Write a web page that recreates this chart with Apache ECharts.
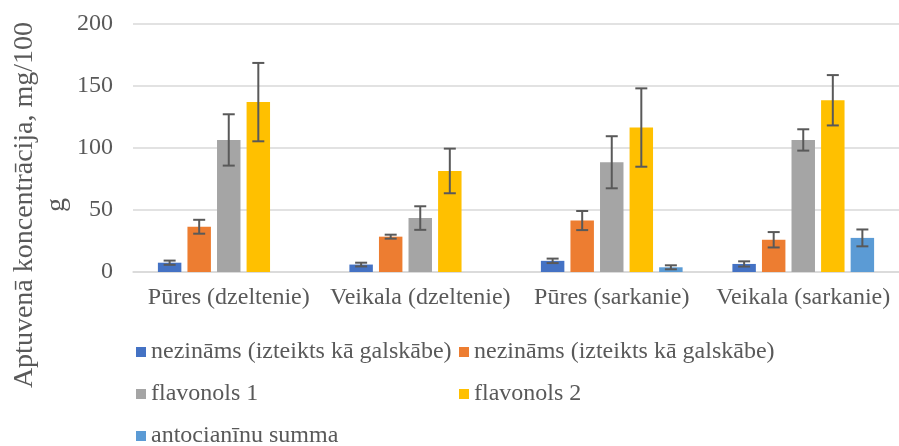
<!DOCTYPE html>
<html>
<head>
<meta charset="utf-8">
<script src="https://cdn.jsdelivr.net/npm/echarts@6/dist/echarts.min.js"></script>
<style>
  html, body { margin: 0; padding: 0; background: #ffffff; }
  #chart { width: 899px; height: 446px; }
</style>
</head>
<body>
<div id="chart"></div>
<script>
// Sample groups on the category axis
const categories = ['Pūres (dzeltenie)', 'Veikala (dzeltenie)', 'Pūres (sarkanie)', 'Veikala (sarkanie)'];

// Legend texts, one per bar series (in drawing order)
const seriesLabels = [
  'nezināms (izteikts kā galskābe)',
  'nezināms (izteikts kā galskābe)',
  'flavonols 1',
  'flavonols 2',
  'antocianīnu summa'
];

// Mean concentrations, mg/100 g
const unknownA = [7.5, 6, 9, 6.5];
const unknownB = [36.5, 28.5, 41.5, 26];
const flavonol1 = [106.5, 43.5, 88.5, 106.5];
const flavonol2 = [137, 81.5, 116.5, 138.5];
const anthocyanins = [null, null, 3.8, 27.5];

// Standard deviations (error bar half-lengths)
const unknownAErr = [1.7, 1.5, 1.8, 2.1];
const unknownBErr = [5.6, 1.6, 7.7, 6.2];
const flavonol1Err = [20.7, 9.5, 21, 8.6];
const flavonol2Err = [31.6, 18, 31.6, 20.3];
const anthocyaninsErr = [null, null, 1.6, 6.8];

// Value axis ticks
const yTickMin = 0;
const yTickMax = 200;
const yTickStep = 50;

const yTitle = 'Aptuvenā koncentrācija, mg/100\ng';

const palette = ['#4472C4', '#ED7D31', '#A5A5A5', '#FFC000', '#5B9BD5'];
const seriesKeys = ['unknownA', 'unknownB', 'flavonol1', 'flavonol2', 'anthocyanins'];
const values = [unknownA, unknownB, flavonol1, flavonol2, anthocyanins];
const errors = [unknownAErr, unknownBErr, flavonol1Err, flavonol2Err, anthocyaninsErr];

// Legend grid: two columns, three rows
const legendSlots = [
  { left: 136, top: 340 },
  { left: 459, top: 340 },
  { left: 136, top: 382 },
  { left: 459, top: 382 },
  { left: 136, top: 424 }
];

const FONT = '"Liberation Serif", "Times New Roman", serif';
const TEXT_COLOR = '#595959';
const CAT_GAP = 0.26;   // share of a category band left empty
const BAR_GAP = 0.26;   // gap between neighbouring bars, relative to bar width
const N = values.length;

// Error bar drawn at the centre of bar number `slot` inside each category band
function errorBarRenderer(slot) {
  return function (params, api) {
    const cat = api.value(0);
    const v = api.value(1);
    const e = api.value(2);
    const band = api.size([1, 0])[0];
    const used = band * (1 - CAT_GAP);
    const bw = used / (N + (N - 1) * BAR_GAP);
    const centre = api.coord([cat, v])[0];
    const x = centre - used / 2 + slot * bw * (1 + BAR_GAP) + bw / 2;
    const yHi = api.coord([cat, v + e])[1];
    const yLo = api.coord([cat, v - e])[1];
    const half = 6;
    const style = { stroke: '#595959', lineWidth: 2 };
    return {
      type: 'group',
      children: [
        { type: 'line', shape: { x1: x, y1: yHi, x2: x, y2: yLo }, style },
        { type: 'line', shape: { x1: x - half, y1: yHi, x2: x + half, y2: yHi }, style },
        { type: 'line', shape: { x1: x - half, y1: yLo, x2: x + half, y2: yLo }, style }
      ]
    };
  };
}

const barSeries = values.map((vals, i) => ({
  name: seriesKeys[i],
  type: 'bar',
  data: vals,
  itemStyle: { color: palette[i] },
  barCategoryGap: (CAT_GAP * 100) + '%',
  barGap: (BAR_GAP * 100) + '%',
  z: 2
}));

const errorSeries = values.map((vals, i) => ({
  type: 'custom',
  renderItem: errorBarRenderer(i),
  encode: { x: 0, y: 1 },
  data: vals
    .map((v, c) => (v == null ? null : [c, v, errors[i][c]]))
    .filter(d => d !== null),
  z: 4,
  silent: true
}));

const legends = seriesKeys.map((key, i) => ({
  left: legendSlots[i].left,
  top: legendSlots[i].top,
  orient: 'horizontal',
  icon: 'rect',
  itemWidth: 10,
  itemHeight: 10,
  selectedMode: false,
  padding: 0,
  data: [key],
  textStyle: { fontFamily: FONT, fontSize: 24, color: TEXT_COLOR, lineHeight: 24 },
  formatter: () => seriesLabels[i]
}));

const chart = echarts.init(document.getElementById('chart'), null, { renderer: 'canvas' });
chart.setOption({
  animation: false,
  backgroundColor: '#ffffff',
  textStyle: { fontFamily: FONT },
  grid: { left: 133, right: 0, top: 24, bottom: 174 },
  legend: legends,
  xAxis: {
    type: 'category',
    data: categories,
    axisTick: { show: false },
    axisLine: { lineStyle: { color: '#D9D9D9', width: 1.5 } },
    axisLabel: { interval: 0, margin: 14, fontSize: 24, fontFamily: FONT, color: TEXT_COLOR }
  },
  yAxis: {
    type: 'value',
    min: yTickMin,
    max: yTickMax,
    interval: yTickStep,
    axisLine: { show: false },
    axisTick: { show: false },
    splitLine: { lineStyle: { color: '#D9D9D9', width: 1.5 } },
    axisLabel: { margin: 20, fontSize: 24, fontFamily: FONT, color: TEXT_COLOR }
  },
  graphic: [{
    type: 'text',
    x: 41,
    y: 205,
    rotation: Math.PI / 2,
    style: {
      text: yTitle,
      font: '28px ' + FONT,
      fill: TEXT_COLOR,
      align: 'center',
      verticalAlign: 'middle',
      lineHeight: 32
    }
  }],
  series: barSeries.concat(errorSeries)
});
</script>
</body>
</html>
